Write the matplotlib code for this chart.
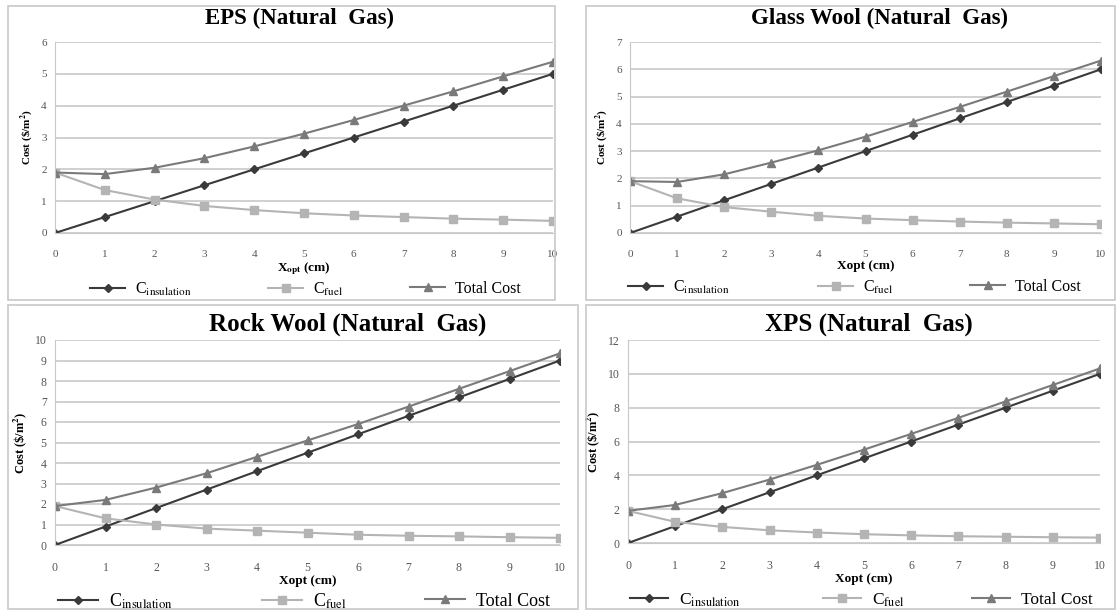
import matplotlib.pyplot as plt
import matplotlib.patches as mpatches
import numpy as np

plt.rcParams['font.family'] = ['Liberation Serif', 'DejaVu Serif']
plt.rcParams['mathtext.fontset'] = 'stix'

x_cm = np.arange(0, 11)

eps_ins = [0, 0.5, 1.0, 1.5, 2.0, 2.5, 3.0, 3.5, 4.0, 4.5, 5.0]
eps_fuel = [1.9, 1.35, 1.05, 0.85, 0.72, 0.62, 0.55, 0.5, 0.45, 0.42, 0.38]
eps_total = [1.9, 1.85, 2.05, 2.35, 2.72, 3.12, 3.55, 4.0, 4.45, 4.92, 5.38]

gw_ins = [0, 0.6, 1.2, 1.8, 2.4, 3.0, 3.6, 4.2, 4.8, 5.4, 6.0]
gw_fuel = [1.9, 1.27, 0.95, 0.78, 0.63, 0.53, 0.47, 0.42, 0.38, 0.35, 0.32]
gw_total = [1.9, 1.87, 2.15, 2.58, 3.03, 3.53, 4.07, 4.62, 5.18, 5.75, 6.32]

rw_ins = [0, 0.9, 1.8, 2.7, 3.6, 4.5, 5.4, 6.3, 7.2, 8.1, 9.0]
rw_fuel = [1.9, 1.3, 1.0, 0.8, 0.7, 0.6, 0.5, 0.45, 0.42, 0.38, 0.35]
rw_total = [1.9, 2.2, 2.8, 3.5, 4.3, 5.1, 5.9, 6.75, 7.62, 8.48, 9.35]

xps_ins = [0, 1, 2, 3, 4, 5, 6, 7, 8, 9, 10]
xps_fuel = [1.9, 1.25, 0.95, 0.75, 0.62, 0.52, 0.45, 0.4, 0.37, 0.34, 0.32]
xps_total = [1.9, 2.25, 2.95, 3.75, 4.62, 5.52, 6.45, 7.4, 8.37, 9.34, 10.32]

titles = ['EPS (Natural  Gas)', 'Glass Wool (Natural  Gas)',
          'Rock Wool (Natural  Gas)', 'XPS (Natural  Gas)']
xlabels = [r'X$_{\mathbf{opt}}$ (cm)', 'Xopt (cm)', 'Xopt (cm)', 'Xopt (cm)']
ymax = [6, 7, 10, 12]
ystep = [1, 1, 1, 2]
series = [(eps_ins, eps_fuel, eps_total), (gw_ins, gw_fuel, gw_total),
          (rw_ins, rw_fuel, rw_total), (xps_ins, xps_fuel, xps_total)]
labels = [r'C$_{\mathrm{insulation}}$', r'C$_{\mathrm{fuel}}$', 'Total Cost']

# layout in pixels of the 1117x610 picture
W, H = 1117, 610
def box(l, r, t, b):
    return [l / W, 1 - b / H, (r - l) / W, (b - t) / H]
ax_boxes = [box(55, 553, 42, 233), box(630, 1101, 42, 233),
            box(55, 560, 340, 545), box(628, 1100, 340, 543)]
frames = [box(8, 555, 6, 300), box(586, 1115, 6, 300),
          box(8, 578, 305, 609), box(586, 1115, 305, 609)]
title_fs = [16.5, 16.5, 18, 18]
title_x = [0.49, 0.53, 0.58, 0.51]
title_pad = [13, 13, 7, 7]
leg_fs = [11.5, 11.5, 13, 12.5]
leg_y = [289, 287, 601, 600]
leg_x = [[90, 268, 410], [628, 818, 970], [58, 262, 425], [630, 823, 972]]
tick_fs = [8, 8, 8.5, 8.5]
ylab_fs = [8, 8, 9, 9]

fig = plt.figure(figsize=(11.17, 6.10), dpi=100)

for i in range(4):
    fr = frames[i]
    fig.add_artist(mpatches.Rectangle((fr[0], fr[1]), fr[2], fr[3],
                                      transform=fig.transFigure, fill=False,
                                      edgecolor='#c8c8c8', linewidth=1.2))
    ax = fig.add_axes(ax_boxes[i])
    ins, fuel, total = series[i]
    l1, = ax.plot(x_cm, ins, color='#3a3a3a', marker='D', markersize=4, linewidth=1.5)
    l2, = ax.plot(x_cm, fuel, color='#b4b4b4', marker='s', markersize=6, linewidth=1.5)
    l3, = ax.plot(x_cm, total, color='#7a7a7a', marker='^', markersize=6, linewidth=1.5)
    ax.set_xlim(0, 10)
    ax.set_ylim(0, ymax[i])
    ax.set_xticks(x_cm)
    ax.set_yticks(np.arange(0, ymax[i] + 1, ystep[i]))
    ax.grid(axis='y', color='#c8c8c8', linewidth=1.2)
    ax.set_axisbelow(True)
    for s in ['top', 'right']:
        ax.spines[s].set_visible(False)
    ax.spines['left'].set_color('#c8c8c8')
    ax.spines['bottom'].set_color('#c8c8c8')
    ax.tick_params(length=0, labelsize=tick_fs[i], labelcolor='#555555')
    ax.tick_params(axis='x', pad=12)
    ax.tick_params(axis='y', pad=6)
    ax.set_title(titles[i], fontsize=title_fs[i], fontweight='bold',
                 pad=title_pad[i], x=title_x[i])
    ax.set_ylabel(r'Cost (\$/m$^{\mathbf{2}}$)', fontsize=ylab_fs[i],
                  fontweight='bold', labelpad=4)
    ax.set_xlabel(xlabels[i], fontsize=9.5, fontweight='bold', labelpad=1)
    for line, lab, lx in zip([l1, l2, l3], labels, leg_x[i]):
        fig.legend([line], [lab], loc='center left',
                   bbox_to_anchor=(lx / W, 1 - leg_y[i] / H),
                   frameon=False, fontsize=leg_fs[i], handlelength=2.2,
                   borderpad=0, borderaxespad=0, handletextpad=0.6)

plt.savefig('out.png', dpi=100)
